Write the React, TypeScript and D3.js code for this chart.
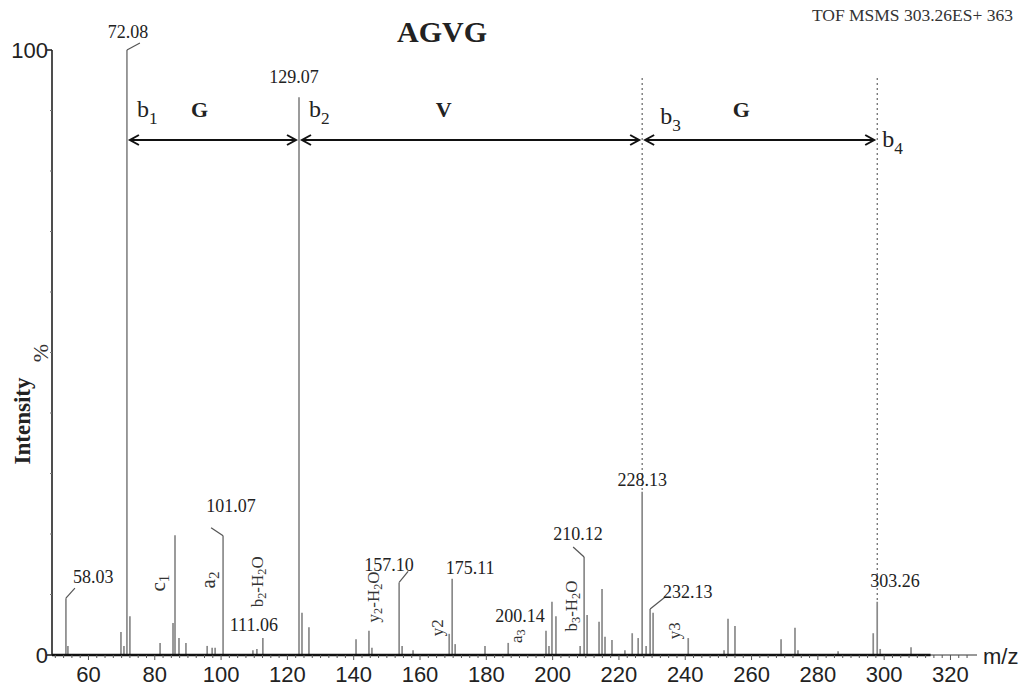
import React from "react";
import * as d3 from "d3";

// peaks as drawn (m/z position on the axis, relative intensity %)
const peakMz = [
  53.2, 53.8, 69.8, 70.7, 71.6, 72.5, 81.6, 85.5, 86.1, 87.3, 89.4, 95.8, 97.3, 98.2,
  100.6, 109.6, 110.8, 112.6, 123.5, 124.4, 126.5, 140.7, 144.6, 145.5, 153.7, 154.6,
  157.9, 168.8, 169.7, 170.6, 179.6, 186.6, 198.0, 198.9, 199.8, 201.0, 208.3, 209.5,
  210.4, 214.0, 214.9, 215.8, 217.9, 221.8, 224.0, 225.8, 227.0, 228.2, 229.4, 230.3,
  240.9, 251.7, 252.9, 255.0, 268.9, 273.1, 274.0, 286.1, 296.7, 297.9, 298.8, 308.1,
];
const peakIntensity = [
  9.4, 1.5, 3.8, 1.5, 100, 6.4, 2.0, 5.3, 19.8, 2.8, 2.0, 1.5, 1.2, 1.2,
  19.7, 0.8, 1.0, 2.8, 92.2, 7.0, 4.6, 2.6, 4.0, 1.2, 12.0, 1.5,
  0.8, 3.5, 12.6, 1.8, 1.5, 2.0, 4.0, 1.5, 8.8, 6.4, 1.5, 16.2,
  6.6, 5.5, 10.9, 3.0, 2.5, 0.8, 3.6, 2.8, 27.0, 1.5, 7.6, 7.0,
  2.8, 0.8, 6.0, 4.8, 2.6, 4.5, 0.8, 0.6, 3.6, 8.8, 1.0, 1.3,
];

// labelled peaks
const labelText = ["58.03", "72.08", "101.07", "111.06", "129.07", "157.10", "175.11", "200.14", "210.12", "228.13", "232.13", "303.26"];
const labelPeakMz = [53.2, 71.6, 100.6, 112.6, 123.5, 153.7, 169.7, 199.8, 209.5, 227.0, 229.4, 297.9];

// fragment ion names written beside the peaks (rotated)
const ionText = ["c_1", "a_2", "b_2-H_2O", "y_2-H_2O", "y2", "a_3", "b_3-H_2O", "y3"];
const ionMz = [81.0, 96.0, 110.8, 145.8, 165.1, 189.0, 205.6, 236.6];
const ionLevel = [11.9, 12.4, 12.1, 9.6, 4.5, 3.1, 8.1, 4.0];

// b-ion ladder
const seqIon = ["b_1", "b_2", "b_3", "b_4"];
const seqMz = [71.6, 123.5, 227.0, 297.9];
const residues = ["G", "V", "G"];

const xTicks = [60, 80, 100, 120, 140, 160, 180, 200, 220, 240, 260, 280, 300, 320];

const SERIF = "'Liberation Serif', 'Times New Roman', serif";
const SANS = "'Liberation Sans', Arial, sans-serif";

// where each peak label sits relative to its peak top: dx, dy, anchor, leader end
const labelLayout: Record<string, [number, number, string, number[] | null]> = {
  "58.03": [7, -15, "start", [9, -10]],
  "72.08": [1, -12, "middle", [13, -7]],
  "101.07": [8, -24, "middle", [-12, -8]],
  "111.06": [-9, -7, "middle", null],
  "129.07": [-5, -14, "middle", null],
  "157.10": [-10, -11, "middle", [9, -11]],
  "175.11": [18, -5, "middle", null],
  "200.14": [-32, 20, "middle", null],
  "210.12": [-6, -17, "middle", [-11, -10]],
  "228.13": [0, -6, "middle", null],
  "232.13": [13, -11, "start", [15, -12]],
  "303.26": [-7, -15, "start", null],
};
const seqLabelPos = [[10, 117], [10, 117], [18, 124], [5, 147]];
const ionFont = [21, 21, 17, 17, 17, 17, 17, 17];

function subText(s: string, fs: number) {
  const parts = s.split(/_(\d)/);
  return parts.map((p, i) =>
    i % 2 === 1 ? (
      <tspan key={i} fontSize={fs * 0.72} dy={fs * 0.28}>{p}</tspan>
    ) : (
      <tspan key={i} fontSize={fs} dy={i === 0 ? 0 : -fs * 0.28}>{p}</tspan>
    )
  );
}

export default function App() {
  const x = d3.scaleLinear().domain([49, 328]).range([52, 977]);
  const y = d3.scaleLinear().domain([0, 100]).range([655, 50]);
  const intensityAt = (mz: number) => peakIntensity[peakMz.indexOf(mz)];
  const minor = d3.range(50, 327.5, 2.5);
  const yMinor = d3.range(10, 100, 10);
  const arrowY = 140;

  return (
    <svg width={1027} height={690} style={{ position: "absolute", left: 0, top: 0, background: "#fff" }}>
      <text x={442} y={42} textAnchor="middle" fontFamily={SERIF} fontWeight="bold" fontSize={30} fill="#222">AGVG</text>
      <text x={1013} y={21} textAnchor="end" fontFamily={SERIF} fontSize={17.5} fill="#333">TOF MSMS 303.26ES+ 363</text>

      {/* y axis */}
      <line x1={52} x2={52} y1={y(100)} y2={y(0)} stroke="#222" strokeWidth={1.6} />
      <line x1={47} x2={52} y1={y(100)} y2={y(100)} stroke="#222" strokeWidth={1.6} />
      <line x1={47} x2={52} y1={y(0)} y2={y(0)} stroke="#222" strokeWidth={1.6} />
      {yMinor.map((v) => (
        <line key={v} x1={50} x2={52} y1={y(v)} y2={y(v)} stroke="#777" strokeWidth={1} />
      ))}
      <text x={48} y={y(100) + 8} textAnchor="end" fontFamily={SANS} fontSize={22} fill="#222">100</text>
      <text x={48} y={y(0) + 8} textAnchor="end" fontFamily={SANS} fontSize={22} fill="#222">0</text>
      <text transform="translate(30,421) rotate(-90)" textAnchor="middle" fontFamily={SERIF} fontWeight="bold" fontSize={23} fill="#222">Intensity</text>
      <text transform="translate(48,353) rotate(-90)" textAnchor="middle" fontFamily={SERIF} fontSize={22} fill="#333">%</text>

      {/* peaks */}
      {peakMz.map((m, i) => (
        <line key={i} x1={x(m)} x2={x(m)} y1={y(0)} y2={y(peakIntensity[i])} stroke="#8a8a8a" strokeWidth={1.7} />
      ))}

      {/* x axis */}
      <line x1={52} x2={977} y1={y(0)} y2={y(0)} stroke="#333" strokeWidth={1} />
      <line x1={52} x2={x(314)} y1={y(0)} y2={y(0)} stroke="#111" strokeWidth={2.6} />
      {minor.map((v) => (
        <line key={v} x1={x(v)} x2={x(v)} y1={y(0)} y2={y(0) + (v % 20 === 0 ? 5 : 3)} stroke="#555" strokeWidth={1} />
      ))}
      {xTicks.map((t) => (
        <text key={t} x={x(t)} y={682} textAnchor="middle" fontFamily={SANS} fontSize={22} fill="#222">{t}</text>
      ))}
      <text x={983} y={664} fontFamily={SANS} fontSize={22} fill="#222">m/z</text>

      {/* b-ion ladder */}
      {seqMz.slice(2).map((m, i) => (
        <line key={i} x1={x(m)} x2={x(m)} y1={78} y2={y(intensityAt(m))} stroke="#444" strokeWidth={1} strokeDasharray="2,3" />
      ))}
      {residues.map((r, i) => {
        const a = x(seqMz[i]) + 3;
        const b = x(seqMz[i + 1]) - 3;
        return (
          <g key={i} stroke="#111" strokeWidth={2} fill="none">
            <line x1={a} x2={b} y1={arrowY} y2={arrowY} />
            <path d={`M${a + 9},${arrowY - 5}L${a},${arrowY}L${a + 9},${arrowY + 5}`} />
            <path d={`M${b - 9},${arrowY - 5}L${b},${arrowY}L${b - 9},${arrowY + 5}`} />
            <text x={a + (b - a) * 0.42} y={117} textAnchor="middle" stroke="none" fill="#222" fontFamily={SERIF} fontWeight="bold" fontSize={22}>{r}</text>
          </g>
        );
      })}
      {seqIon.map((s, i) => (
        <text key={s} x={x(seqMz[i]) + seqLabelPos[i][0]} y={seqLabelPos[i][1]} fontFamily={SERIF} fill="#222">
          {subText(s, 24)}
        </text>
      ))}

      {/* peak labels */}
      {labelText.map((t, i) => {
        const px = x(labelPeakMz[i]);
        const py = y(intensityAt(labelPeakMz[i]));
        const [dx, dy, anchor, leader] = labelLayout[t];
        return (
          <g key={t}>
            {leader && <line x1={px} y1={py} x2={px + leader[0]} y2={py + leader[1]} stroke="#555" strokeWidth={1.2} />}
            <text x={px + dx} y={py + dy} textAnchor={anchor} fontFamily={SERIF} fontSize={18} fill="#222">{t}</text>
          </g>
        );
      })}

      {/* rotated fragment names */}
      {ionText.map((t, i) => (
        <text key={i} transform={`translate(${x(ionMz[i])},${y(ionLevel[i])}) rotate(-90)`} textAnchor="middle" dominantBaseline="central" fontFamily={SERIF} fill="#333">
          {subText(t, ionFont[i])}
        </text>
      ))}
    </svg>
  );
}
